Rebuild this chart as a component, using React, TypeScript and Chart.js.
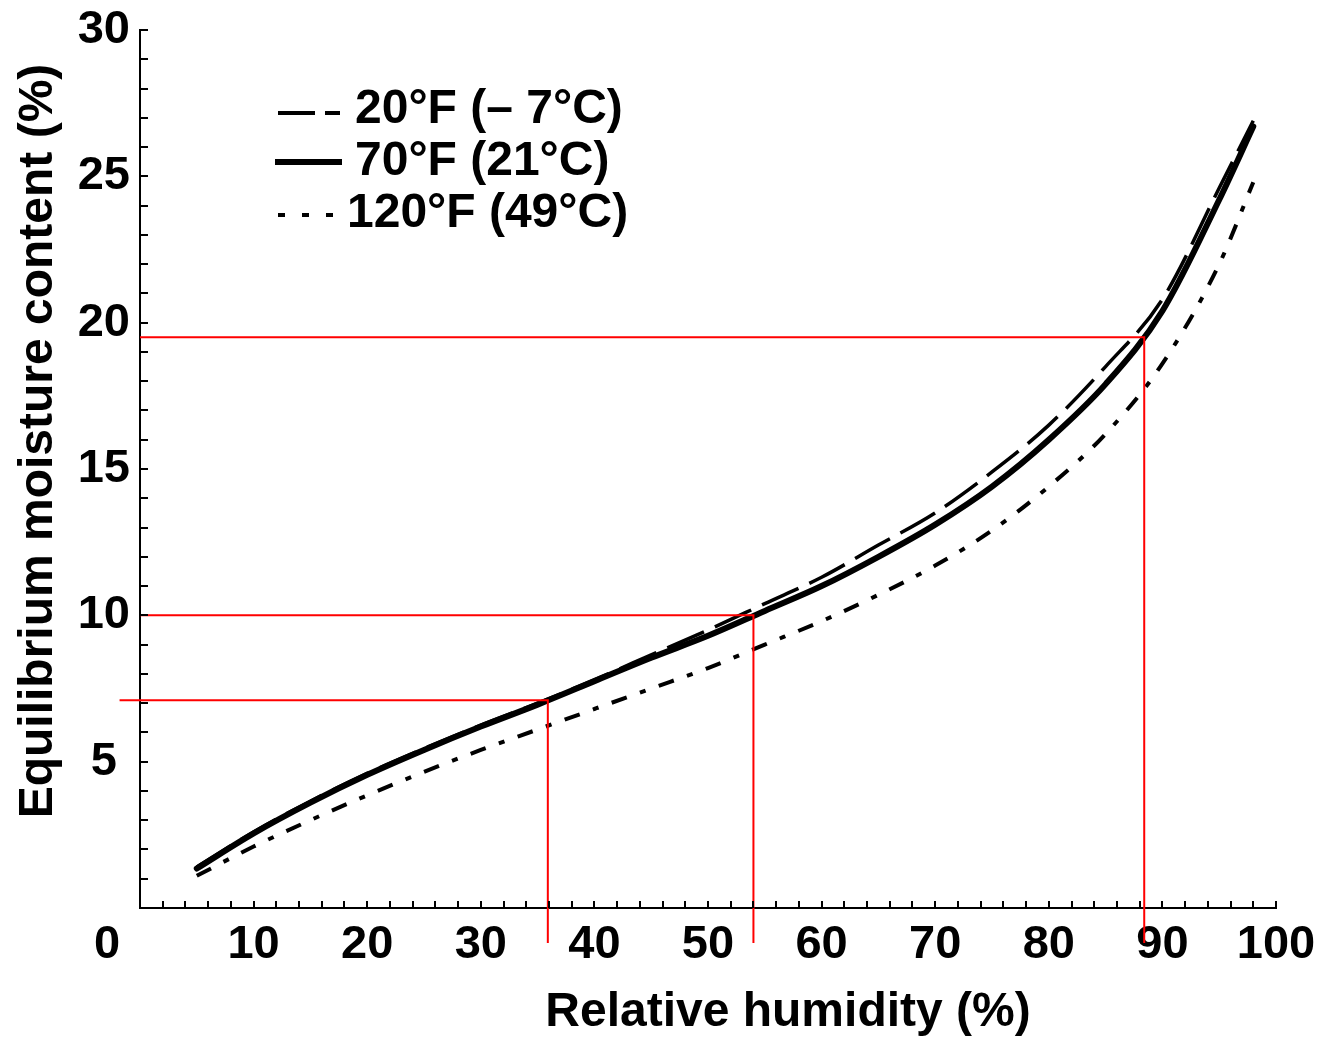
import React, { useEffect, useRef } from 'react';
import { Chart, registerables } from 'chart.js';

Chart.register(...registerables);

// ---- Data ----
const humidity = [5, 10, 15, 20, 25, 30, 35, 40, 45, 50, 55, 60, 65, 70, 75, 80, 85, 90, 95, 98];
const emc20F = [1.4, 2.6, 3.65, 4.6, 5.45, 6.25, 7.0, 7.8, 8.65, 9.5, 10.4, 11.3, 12.4, 13.5, 14.9, 16.5, 18.5, 20.8, 24.6, 26.9];
const emc70F = [1.35, 2.55, 3.6, 4.55, 5.4, 6.2, 6.95, 7.75, 8.55, 9.3, 10.15, 11.0, 12.0, 13.1, 14.4, 16.0, 17.9, 20.4, 24.2, 26.7];
const emc120F = [1.1, 2.1, 3.0, 3.85, 4.65, 5.4, 6.1, 6.8, 7.5, 8.2, 9.0, 9.8, 10.7, 11.7, 12.9, 14.4, 16.2, 18.6, 22.0, 24.8];

const seriesLabels = ['20°F (– 7°C)', '70°F (21°C)', '120°F (49°C)'];

// red reference guide lines
const refRH = [35.9, 54.0, 88.4];
const refEMC = [7.1, 10.0, 19.5];
const refXStart = [-1.8, 0, 0];
const refYEnd = -1.2;

const xTitle = 'Relative humidity (%)';
const yTitle = 'Equilibrium moisture content (%)';

const FONT = '"Liberation Sans", Arial, Helvetica, sans-serif';

const toPoints = (ys: number[]) => humidity.map((x, i) => ({ x, y: ys[i] }));

// legend styling (layout constants)
const legendStyles = [
  { dash: [37, 10], width: 4, x0: 278, x1: 340, lineY: 113, textX: 355, textY: 110 },
  { dash: [], width: 6, x0: 275, x1: 342, lineY: 162, textX: 355, textY: 162 },
  { dash: [7, 17], width: 4, x0: 278, x1: 337, lineY: 215, textX: 347, textY: 214 },
];

const decorPlugin = {
  id: 'decor',
  afterDraw(chart: any) {
    const { ctx, chartArea } = chart;
    const xs = chart.scales.x;
    const ys = chart.scales.y;
    ctx.save();
    // inward tick marks
    ctx.strokeStyle = '#000';
    ctx.lineWidth = 2;
    ctx.beginPath();
    for (let v = 2; v <= 100; v += 2) {
      const px = Math.round(xs.getPixelForValue(v));
      ctx.moveTo(px, chartArea.bottom);
      ctx.lineTo(px, chartArea.bottom - 7);
    }
    for (let v = 1; v <= 30; v += 1) {
      const py = Math.round(ys.getPixelForValue(v));
      ctx.moveTo(chartArea.left, py);
      ctx.lineTo(chartArea.left + 8, py);
    }
    ctx.stroke();

    // origin label "0"
    ctx.fillStyle = '#000';
    ctx.font = `bold 47px ${FONT}`;
    ctx.textAlign = 'center';
    ctx.textBaseline = 'middle';
    ctx.fillText('0', xs.getPixelForValue(0) - 33, chartArea.bottom + 37);

    // axis titles
    ctx.font = `bold 48px ${FONT}`;
    ctx.textAlign = 'center';
    ctx.textBaseline = 'alphabetic';
    ctx.fillText(xTitle, 788, 1026);
    ctx.save();
    ctx.translate(52, 441);
    ctx.rotate(-Math.PI / 2);
    ctx.fillText(yTitle, 0, 0);
    ctx.restore();

    // legend
    ctx.font = `bold 48px ${FONT}`;
    ctx.textAlign = 'left';
    ctx.textBaseline = 'middle';
    seriesLabels.forEach((label, i) => {
      const st = legendStyles[i];
      const ds = chart.data.datasets[i];
      ctx.strokeStyle = ds.borderColor;
      ctx.lineWidth = st.width;
      ctx.lineCap = 'butt';
      ctx.setLineDash(st.dash);
      ctx.beginPath();
      ctx.moveTo(st.x0, st.lineY);
      ctx.lineTo(st.x1, st.lineY);
      ctx.stroke();
      ctx.setLineDash([]);
      ctx.fillStyle = '#000';
      ctx.fillText(label, st.textX, st.textY);
    });
    ctx.restore();
  },
};

export default function App() {
  const canvasRef = useRef<HTMLCanvasElement | null>(null);

  useEffect(() => {
    if (!canvasRef.current) return;
    const refDatasets = refRH.map((rh, i) => ({
      label: 'ref' + i,
      data: [
        { x: refXStart[i], y: refEMC[i] },
        { x: rh, y: refEMC[i] },
        { x: rh, y: refYEnd },
      ],
      borderColor: '#ff0000',
      borderWidth: 2,
      pointRadius: 0,
      tension: 0,
      clip: false as any,
      order: -1,
    }));

    const chart = new Chart(canvasRef.current, {
      type: 'line',
      data: {
        datasets: [
          {
            label: seriesLabels[0],
            data: toPoints(emc20F),
            borderColor: '#000',
            borderWidth: 3.5,
            borderDash: [40, 12],
            pointRadius: 0,
            cubicInterpolationMode: 'monotone',
            order: 2,
          },
          {
            label: seriesLabels[1],
            data: toPoints(emc70F),
            borderColor: '#000',
            borderWidth: 6,
            borderCapStyle: 'round',
            pointRadius: 0,
            cubicInterpolationMode: 'monotone',
            order: 1,
          },
          {
            label: seriesLabels[2],
            data: toPoints(emc120F),
            borderColor: '#000',
            borderWidth: 4,
            borderDash: [16, 14, 6, 14],
            pointRadius: 0,
            cubicInterpolationMode: 'monotone',
            order: 3,
          },
          ...refDatasets,
        ] as any,
      },
      options: {
        animation: false,
        responsive: false,
        devicePixelRatio: 1,
        layout: { padding: { top: 30, right: 50, left: 0, bottom: 0 } },
        plugins: {
          legend: { display: false },
          tooltip: { enabled: false },
          title: { display: false },
        },
        scales: {
          x: {
            type: 'linear',
            position: 'bottom',
            min: 0,
            max: 100,
            grid: { display: true, drawOnChartArea: false, drawTicks: false },
            border: { display: true, color: '#000', width: 2 },
            ticks: {
              stepSize: 10,
              autoSkip: false,
              maxRotation: 0,
              padding: 9,
              color: '#000',
              font: { family: FONT, size: 47, weight: 'bold' },
              callback: (v: any) => (Number(v) === 0 ? '' : String(v)),
            },
            afterFit: (scale: any) => {
              scale.height = 130;
              scale.paddingLeft = 0;
              scale.paddingRight = 0;
            },
          },
          y: {
            type: 'linear',
            min: 0,
            max: 30,
            grid: { display: true, drawOnChartArea: false, drawTicks: false },
            border: { display: true, color: '#000', width: 2 },
            ticks: {
              stepSize: 5,
              padding: 10,
              crossAlign: 'center',
              color: '#000',
              font: { family: FONT, size: 47, weight: 'bold' },
              callback: (v: any) => (Number(v) === 0 ? '' : String(v)),
            },
            afterFit: (scale: any) => {
              scale.width = 140;
              scale.paddingTop = 0;
              scale.paddingBottom = 0;
            },
          },
        },
      } as any,
      plugins: [decorPlugin],
    });
    return () => chart.destroy();
  }, []);

  return (
    <div style={{ position: 'absolute', left: 0, top: 0, width: 1326, height: 1038, background: '#fff' }}>
      <canvas ref={canvasRef} width={1326} height={1038} style={{ display: 'block' }} />
    </div>
  );
}
